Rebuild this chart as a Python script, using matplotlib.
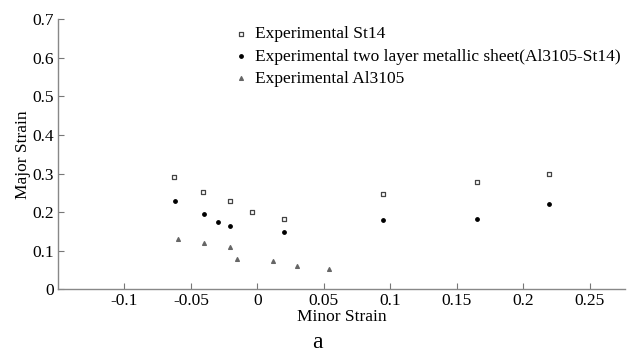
import matplotlib
matplotlib.use("Agg")
import matplotlib.pyplot as plt

plt.rcParams['font.family'] = ['Liberation Serif', 'DejaVu Serif']

st14_x = [-0.0626, -0.041, -0.0205, -0.004, 0.0198, 0.0947, 0.165, 0.2196]
st14_y = [0.291, 0.251, 0.2295, 0.200, 0.182, 0.247, 0.278, 0.300]

two_x = [-0.062, -0.040, -0.030, -0.0205, 0.0198, 0.0947, 0.165, 0.2196]
two_y = [0.2295, 0.196, 0.1735, 0.165, 0.1485, 0.1795, 0.182, 0.220]

al_x = [-0.060, -0.040, -0.0205, -0.015, 0.012, 0.0296, 0.0539]
al_y = [0.130, 0.121, 0.110, 0.0785, 0.0725, 0.0596, 0.0534]

labels = ["Experimental St14",
          "Experimental two layer metallic sheet(Al3105-St14)",
          "Experimental Al3105"]
xticks = [-0.1, -0.05, 0, 0.05, 0.1, 0.15, 0.2, 0.25]
xticklabels = ["-0.1", "-0.05", "0", "0.05", "0.1", "0.15", "0.2", "0.25"]
yticks = [0, 0.1, 0.2, 0.3, 0.4, 0.5, 0.6, 0.7]
yticklabels = ["0", "0.1", "0.2", "0.3", "0.4", "0.5", "0.6", "0.7"]

fig = plt.figure(figsize=(6.33, 3.54), dpi=100)
ax = fig.add_axes([58/633, 1-289.3/354, (625-58)/633, (289.3-19.3)/354])

ax.scatter(st14_x, st14_y, marker='s', s=7, facecolors='white', edgecolors='#444444', linewidths=0.9, label=labels[0], zorder=3)
ax.scatter(two_x, two_y, marker='o', s=6, color='black', label=labels[1], zorder=3)
ax.scatter(al_x, al_y, marker='^', s=7, color='#666666', label=labels[2], zorder=3)

ax.set_xlim(-0.15, 0.2765)
ax.set_ylim(0, 0.7)
ax.set_xticks(xticks)
ax.set_xticklabels(xticklabels)
ax.set_yticks(yticks)
ax.set_yticklabels(yticklabels)
ax.tick_params(direction='in', length=4, width=0.8, color='#777777', labelsize=12.5, pad=3)
for s in ['top', 'right']:
    ax.spines[s].set_visible(False)
for s in ['left', 'bottom']:
    ax.spines[s].set_color('#888888')
    ax.spines[s].set_linewidth(1.0)

ax.set_xlabel("Minor Strain", fontsize=12.5, labelpad=0)
ax.set_ylabel("Major Strain", fontsize=12.5, labelpad=1)

fig.legend(loc='upper left', bbox_to_anchor=(232/633, 1-26/354), frameon=False,
           fontsize=12.5, handlelength=1.0, handletextpad=0.3, labelspacing=0.36,
           borderaxespad=0, borderpad=0, markerscale=1.0)

fig.text(317/633, 1/354, "a", fontsize=17, ha='center', va='bottom')

fig.savefig("out.png", dpi=100)
